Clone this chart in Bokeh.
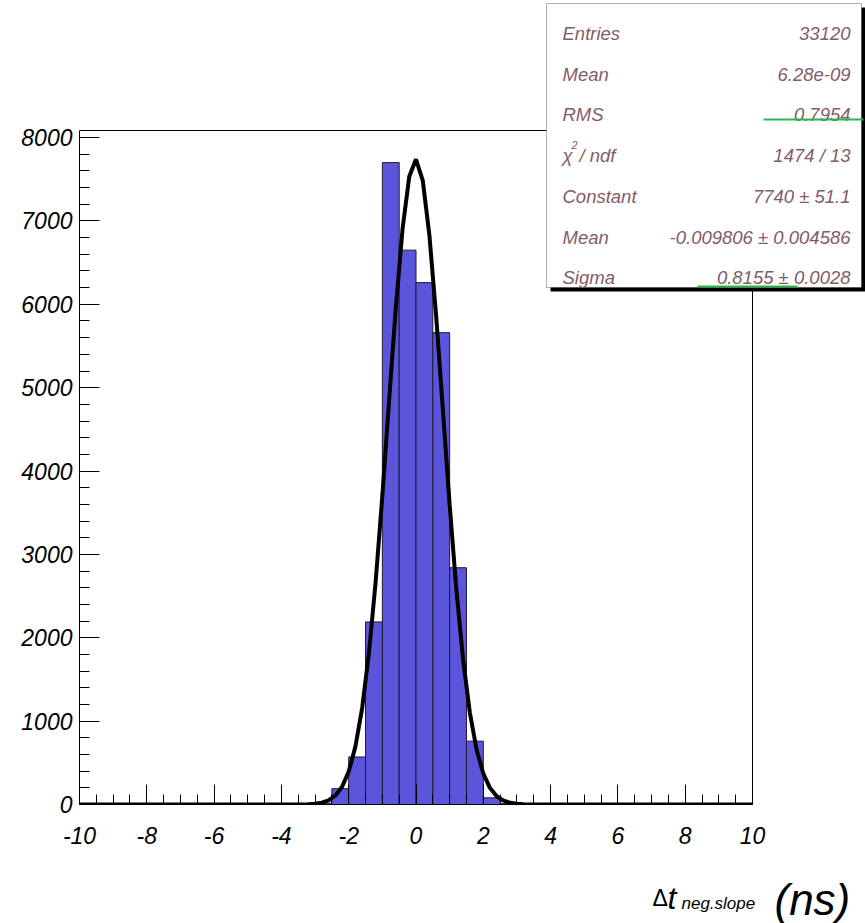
import numpy as np
from bokeh.plotting import figure
from bokeh.layouts import column
from bokeh.models import (Range1d, SingleIntervalTicker, Label, BoxAnnotation,
                          PrintfTickFormatter)
from bokeh.embed import file_html
from bokeh.resources import INLINE

# ---------------- data ----------------
x_min, x_max, n_bins = -10.0, 10.0, 40
counts = [0, 0, 0, 0, 0, 0, 0, 0, 0, 0,
          0, 0, 0, 0, 15, 190, 570, 2190, 7700, 6650,
          6260, 5660, 2840, 760, 80, 10, 0, 0, 0, 0,
          0, 0, 0, 0, 0, 0, 0, 0, 0, 0]

# Gaussian fit parameters (from the stats box)
fit_constant = 7740.0
fit_mean = -0.009806
fit_sigma = 0.8155
fit_npx = 100

stats_labels = ["Entries", "Mean", "RMS", None, "Constant", "Mean", "Sigma"]
stats_values = ["33120", "6.28e-09", "0.7954", "1474 / 13",
                "7740 \u00b1 51.1", "-0.009806 \u00b1 0.004586", "0.8155 \u00b1 0.0028"]

x_ticks_interval = 2
y_ticks_interval = 1000
y_max = 8085

# ---------------- derived ----------------
bw = (x_max - x_min) / n_bins
lefts = [x_min + i * bw for i in range(n_bins)]
rights = [l + bw for l in lefts]
fit_x = np.linspace(x_min, x_max, fit_npx + 1)
fit_y = fit_constant * np.exp(-0.5 * ((fit_x - fit_mean) / fit_sigma) ** 2)

W, H = 865, 923
H1 = 863                      # main figure height, title strip below
FL, FR, FT, FB = 79, 752, 130, 804   # visual plot box in canvas pixels

px_per_x = (FR - FL) / (x_max - x_min)
x_end = x_max + (W - FR) / px_per_x
px_per_y = (FB - FT) / y_max
y_end = FB / px_per_y

p = figure(width=W, height=H1, x_range=Range1d(x_min, x_end), y_range=Range1d(0, y_end),
           output_backend="svg", toolbar_location=None, title=None,
           min_border_left=FL, min_border_right=0,
           min_border_top=0, min_border_bottom=H1 - FB)
p.background_fill_color = "white"
p.border_fill_color = "white"
p.outline_line_color = None
p.xgrid.visible = False
p.ygrid.visible = False

p.xaxis.ticker = SingleIntervalTicker(interval=x_ticks_interval, num_minor_ticks=4)
p.yaxis.ticker = SingleIntervalTicker(interval=y_ticks_interval, num_minor_ticks=5)
p.xaxis.bounds = (x_min, x_max)
p.yaxis.bounds = (0, y_max)
for ax in (p.xaxis[0], p.yaxis[0]):
    ax.formatter = PrintfTickFormatter(format="%d")
    ax.major_tick_in = 20
    ax.major_tick_out = 0
    ax.minor_tick_in = 10
    ax.minor_tick_out = 0
    ax.major_tick_line_color = "black"
    ax.minor_tick_line_color = "black"
    ax.axis_line_color = "black"
    ax.major_label_text_font = "Liberation Sans"
    ax.major_label_text_font_style = "italic"
    ax.major_label_text_font_size = "23px"
    ax.major_label_text_color = "black"
p.xaxis.major_label_standoff = 22
p.yaxis.major_label_standoff = 7

# frame top and right lines
p.segment(x0=[x_min, x_max], y0=[y_max, 0], x1=[x_max, x_max], y1=[y_max, y_max],
          line_color="black", line_width=1)

p.quad(left=lefts, right=rights, bottom=0, top=counts,
       fill_color="#5A55DA", line_color="#1c1c30", line_width=1)
p.line(fit_x, fit_y, line_color="black", line_width=4)


def sx(cx):
    return cx - FL


def sy(cy):
    return FB - cy


def sbox(l, t, r, b, **kw):
    return BoxAnnotation(left=sx(l), right=sx(r), top=sy(t), bottom=sy(b),
                         left_units="screen", right_units="screen",
                         top_units="screen", bottom_units="screen", **kw)


def slabel(x, y, text, size, color, align="left", style="italic"):
    return Label(x=sx(x), y=sy(y), x_units="screen", y_units="screen", text=text,
                 text_font="Liberation Sans", text_font_style=style,
                 text_font_size=size, text_color=color,
                 text_align=align, text_baseline="alphabetic")


# stats box
p.add_layout(sbox(550, 7, 865, 291, fill_color="black", fill_alpha=1.0, line_color=None))
p.add_layout(sbox(546, 3, 861, 287, fill_color="white", fill_alpha=1.0,
                  line_color="black", line_width=1))

stat_col = "#835C66"
row0, drow = 33, 40.7
for i, (lab, val) in enumerate(zip(stats_labels, stats_values)):
    yb = row0 + i * drow
    if lab is None:
        p.add_layout(slabel(562, yb, "\u03c7", "18.5px", stat_col))
        p.add_layout(slabel(571, yb - 11, "2", "11px", stat_col))
        p.add_layout(slabel(579, yb, "/ ndf", "18.5px", stat_col))
    else:
        p.add_layout(slabel(562, yb, lab, "18.5px", stat_col))
    p.add_layout(slabel(850, yb, val, "18.5px", stat_col, align="right"))

# green underlines
p.add_layout(sbox(763, 118, 863, 120, fill_color="#2DB34A", fill_alpha=1.0, line_color=None))
p.add_layout(sbox(697, 285, 797, 287, fill_color="#2DB34A", fill_alpha=1.0, line_color=None))

# ---------------- x-axis title strip ----------------
H2 = H - H1
t = figure(width=W, height=H2, x_range=Range1d(FL, W), y_range=Range1d(H2, 0),
           output_backend="svg", toolbar_location=None, title=None,
           x_axis_type=None, y_axis_type=None,
           min_border_left=FL, min_border_right=0, min_border_top=0, min_border_bottom=0)
t.outline_line_color = None
t.background_fill_color = "white"
t.border_fill_color = "white"
t.xgrid.visible = False
t.ygrid.visible = False

dy = -12  # compensation for the strip's placement


def tlabel(x, y, text, size, style="italic"):
    return Label(x=x, y=y - H1 + dy, text=text, text_font="Liberation Sans",
                 text_font_style=style, text_font_size=size, text_color="black",
                 text_align="left", text_baseline="alphabetic")


t.add_layout(tlabel(652, 909, "\u0394", "23px", style="normal"))
t.add_layout(tlabel(667, 909, "t", "32px"))
t.add_layout(tlabel(681, 915, "neg.slope", "17px"))
t.add_layout(tlabel(774, 911, "(ns)", "44px"))

layout = column(p, t, spacing=0)
open("out.html", "w").write(file_html(layout, INLINE))
